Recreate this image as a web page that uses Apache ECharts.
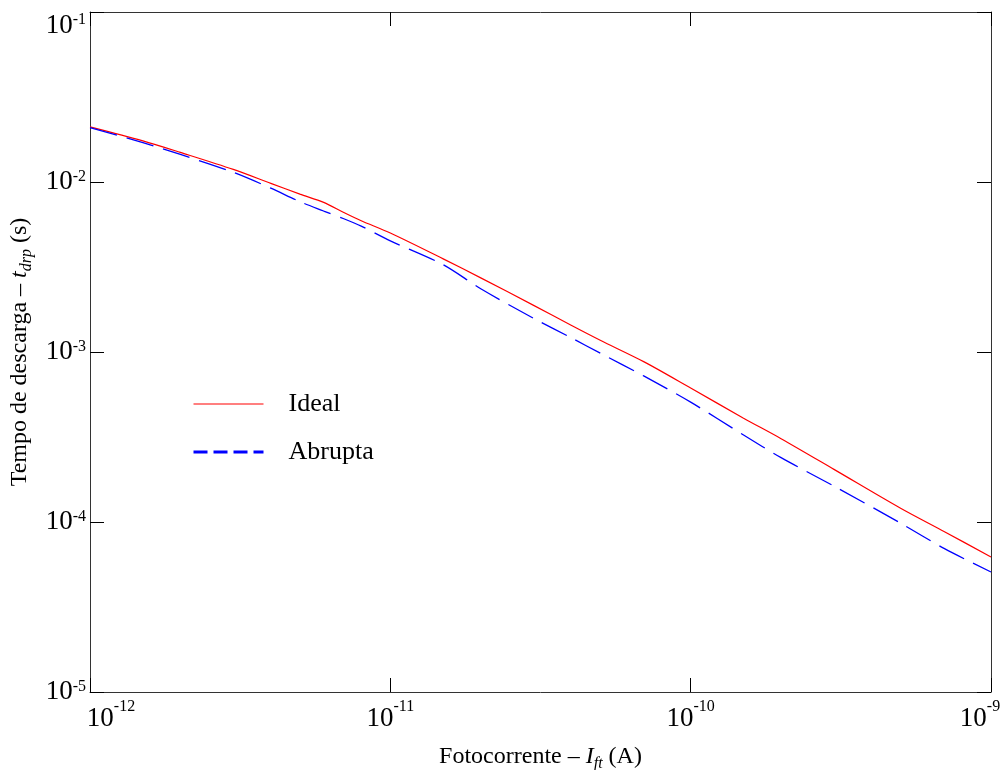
<!DOCTYPE html>
<html>
<head>
<meta charset="utf-8">
<script src="https://cdn.jsdelivr.net/npm/echarts@6/dist/echarts.min.js"></script>
<style>html,body{margin:0;padding:0;background:#fff;}#c{width:1003px;height:770px;}</style>
</head>
<body>
<div id="c"></div>
<script>
// Photocurrent (A)
const current = [1e-12, 1.5e-12, 2e-12, 3e-12, 4e-12, 5e-12, 6e-12, 7e-12, 8e-12,
  1e-11, 1.5e-11, 2e-11, 3e-11, 4e-11, 5e-11, 7e-11,
  1e-10, 1.5e-10, 2e-10, 3e-10, 5e-10, 7e-10, 1e-9];
// Discharge time (s)
const ideal = [0.0211, 0.01746, 0.01493, 0.01186, 0.00982, 0.00849, 0.00759, 0.00662, 0.00592,
  0.00501, 0.00353, 0.00273, 0.00188, 0.001436, 0.001172, 0.000875,
  0.000614, 0.000408, 0.000309, 0.000204, 0.0001205, 8.77e-5, 6.22e-5];
const abrupta = [0.0209, 0.01706, 0.01452, 0.0114, 0.0092, 0.00766, 0.00675, 0.00608, 0.0055,
  0.00451, 0.00326, 0.002355, 0.001578, 0.001213, 0.000984, 0.000721,
  0.000507, 0.000325, 0.000239, 0.0001626, 9.84e-5, 6.97e-5, 5.08e-5];
const seriesNames = ['Ideal', 'Abrupta'];
const xName = 'Fotocorrente – {i|I}{sub|ft} (A)';
const yName = 'Tempo de descarga – {i|t}{sub|drp} (s)';
const xRange = [1e-12, 1e-9];
const yRange = [1e-5, 1e-1];

const FONT = "'Liberation Serif', 'Times New Roman', serif";
const pair = (xs, ys) => xs.map((x, i) => [x, ys[i]]);
const expOf = v => Math.round(Math.log10(v));

const nameRich = {
  i: {fontFamily: FONT, fontSize: 24, fontStyle: 'italic', color: '#000', lineHeight: 30},
  sub: {fontFamily: FONT, fontSize: 16, fontStyle: 'italic', color: '#000', lineHeight: 20, verticalAlign: 'bottom'}
};

const chart = echarts.init(document.getElementById('c'), null, {renderer: 'canvas'});
chart.setOption({
  animation: false,
  backgroundColor: '#fff',
  grid: {left: 90, right: 12, top: 12, bottom: 78, outerBoundsMode: 'none'},
  legend: {
    orient: 'vertical', left: 192, top: 389, padding: 0,
    itemWidth: 70, itemHeight: 30, itemGap: 18,
    textStyle: {fontFamily: FONT, fontSize: 26, color: '#000', lineHeight: 30, padding: [0, 0, 0, 20]},
    data: [
      {name: seriesNames[0], itemStyle: {opacity: 0, borderWidth: 0}, lineStyle: {color: '#ff0000', width: 1.2, type: 'solid'}},
      {name: seriesNames[1], itemStyle: {opacity: 0, borderWidth: 0}, lineStyle: {color: '#0000ff', width: 3, type: [14, 6]}}
    ]
  },
  xAxis: [{
    type: 'log', logBase: 10, min: xRange[0], max: xRange[1], interval: 1,
    name: xName, nameLocation: 'middle', nameGap: 50,
    nameTextStyle: {fontFamily: FONT, fontSize: 24, color: '#000', lineHeight: 30, rich: nameRich},
    axisLine: {show: true, onZero: false, lineStyle: {color: '#333', width: 1}},
    axisTick: {show: true, inside: true, length: 14, lineStyle: {color: '#000', width: 1}},
    splitLine: {show: false},
    axisLabel: {
      show: true, margin: 7, showMinLabel: true, showMaxLabel: true,
      formatter: v => {
        const e = expOf(v);
        if (e === -12) return '{bl|10}{s|' + e + '}';
        if (e === -9) return '{b|10}{sr|' + e + '}';
        return '{b|10}{s|' + e + '}';
      },
      rich: {
        b: {fontFamily: FONT, fontSize: 27, color: '#000', lineHeight: 39},
        bl: {fontFamily: FONT, fontSize: 27, color: '#000', lineHeight: 39, padding: [0, 0, 0, 42]},
        s: {fontFamily: FONT, fontSize: 16, color: '#000', lineHeight: 16, verticalAlign: 'top'},
        sr: {fontFamily: FONT, fontSize: 16, color: '#000', lineHeight: 16, verticalAlign: 'top', padding: [0, 22, 0, 0]}
      }
    }
  }, {
    type: 'log', logBase: 10, min: xRange[0], max: xRange[1], interval: 1, position: 'top',
    axisLine: {show: true, onZero: false, lineStyle: {color: '#333', width: 1}},
    axisTick: {show: true, inside: true, length: 14, lineStyle: {color: '#000', width: 1}},
    axisLabel: {show: false}, splitLine: {show: false}
  }],
  yAxis: [{
    type: 'log', logBase: 10, min: yRange[0], max: yRange[1], interval: 1,
    name: yName, nameLocation: 'middle', nameGap: 55, nameRotate: 90,
    nameTextStyle: {fontFamily: FONT, fontSize: 24, color: '#000', lineHeight: 30, rich: nameRich},
    axisLine: {show: true, onZero: false, lineStyle: {color: '#333', width: 1}},
    axisTick: {show: true, inside: true, length: 14, lineStyle: {color: '#000', width: 1}},
    splitLine: {show: false},
    axisLabel: {
      show: true, margin: 4, showMinLabel: true, showMaxLabel: true,
      verticalAlignMaxLabel: 'top',
      formatter: v => '{b|10}{s|' + expOf(v) + '}',
      rich: {
        b: {fontFamily: FONT, fontSize: 27, color: '#000', lineHeight: 27},
        s: {fontFamily: FONT, fontSize: 16, color: '#000', lineHeight: 16, verticalAlign: 'top'}
      }
    }
  }, {
    type: 'log', logBase: 10, min: yRange[0], max: yRange[1], interval: 1, position: 'right',
    axisLine: {show: true, onZero: false, lineStyle: {color: '#333', width: 1}},
    axisTick: {show: true, inside: true, length: 14, lineStyle: {color: '#000', width: 1}},
    axisLabel: {show: false}, splitLine: {show: false}
  }],
  series: [{
    name: seriesNames[0], type: 'line', xAxisIndex: 0, yAxisIndex: 0,
    data: pair(current, ideal), symbol: 'none', showSymbol: false, smooth: 0.3,
    lineStyle: {color: '#ff0000', width: 1.2}, itemStyle: {color: '#ff0000'}
  }, {
    name: seriesNames[1], type: 'line', xAxisIndex: 0, yAxisIndex: 0,
    data: pair(current, abrupta), symbol: 'none', showSymbol: false, smooth: 0.3,
    lineStyle: {color: '#0000ff', width: 1.3, type: [28, 10]}, itemStyle: {color: '#0000ff'}
  }]
});
</script>
</body>
</html>
